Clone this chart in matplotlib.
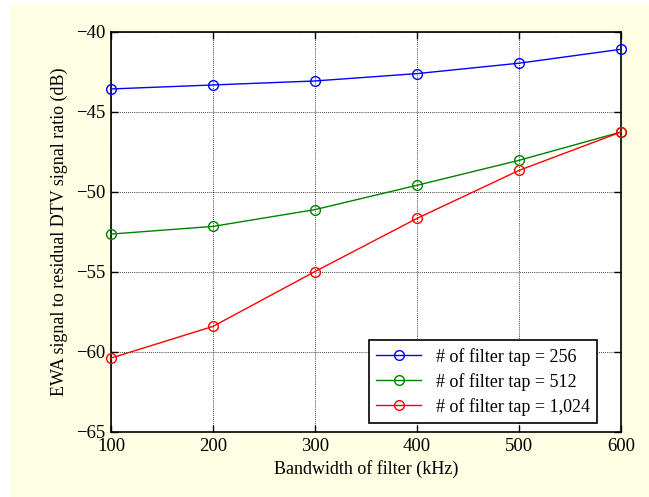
import numpy as np
import matplotlib.pyplot as plt
from matplotlib.patches import Rectangle

plt.rcParams['font.family'] = ['Liberation Serif', 'DejaVu Serif']

# bandwidth (kHz) and ratio (dB) for each filter length
bandwidth = [100, 200, 300, 400, 500, 600]
tap_256 = [-43.56, -43.31, -43.06, -42.6, -41.95, -41.08]
tap_512 = [-52.63, -52.15, -51.1, -49.58, -48.02, -46.25]
tap_1024 = [-60.38, -58.4, -54.97, -51.65, -48.65, -46.25]
labels = ['# of filter tap = 256', '# of filter tap = 512', '# of filter tap = 1,024']

xticks = [100, 200, 300, 400, 500, 600]
yticks = [-65, -60, -55, -50, -45, -40]

fig = plt.figure(figsize=(6.49, 4.97), dpi=100)
fig.patch.set_facecolor('white')
# cream panel behind the plot
fig.patches.append(Rectangle((10 / 649, 0), 1, 1 - 5 / 497, transform=fig.transFigure,
                             facecolor='#FFFFE3', edgecolor='none', zorder=-1))

ax = fig.add_axes([111 / 649, 1 - 432 / 497, 510 / 649, 400 / 497])
ax.set_facecolor('white')

for vals, col, lab in zip([tap_256, tap_512, tap_1024], ['#0000FF', '#008000', '#FF0000'], labels):
    ax.plot(bandwidth, vals, '-o', color=col, mfc='none', mec=col, ms=7, lw=1, mew=1,
            label=lab, clip_on=False, zorder=3)

ax.set_xlim(100, 600)
ax.set_ylim(-65, -40)
ax.set_xticks(xticks)
ax.set_yticks(yticks)
ax.set_yticklabels(['\u2212%d' % abs(v) for v in yticks])
ax.grid(True, color='black', linestyle=(0, (1, 1.5)), linewidth=0.6)
ax.tick_params(direction='in', top=True, right=True, length=5, width=1, labelsize=13.5, pad=4)
for s in ax.spines.values():
    s.set_linewidth(1.2)

ax.set_xlabel('Bandwidth of filter (kHz)', fontsize=13, labelpad=4)
ax.set_ylabel('EWA signal to residual DTV signal ratio (dB)', fontsize=13, labelpad=6)

leg = ax.legend(loc='lower right', bbox_to_anchor=(0.953, 0.0225), fontsize=13,
                fancybox=False, framealpha=1, edgecolor='black', borderaxespad=0,
                handlelength=2.5, labelspacing=0.4, borderpad=0.4)
leg.get_frame().set_linewidth(1.2)

fig.savefig('out.png', dpi=100)
